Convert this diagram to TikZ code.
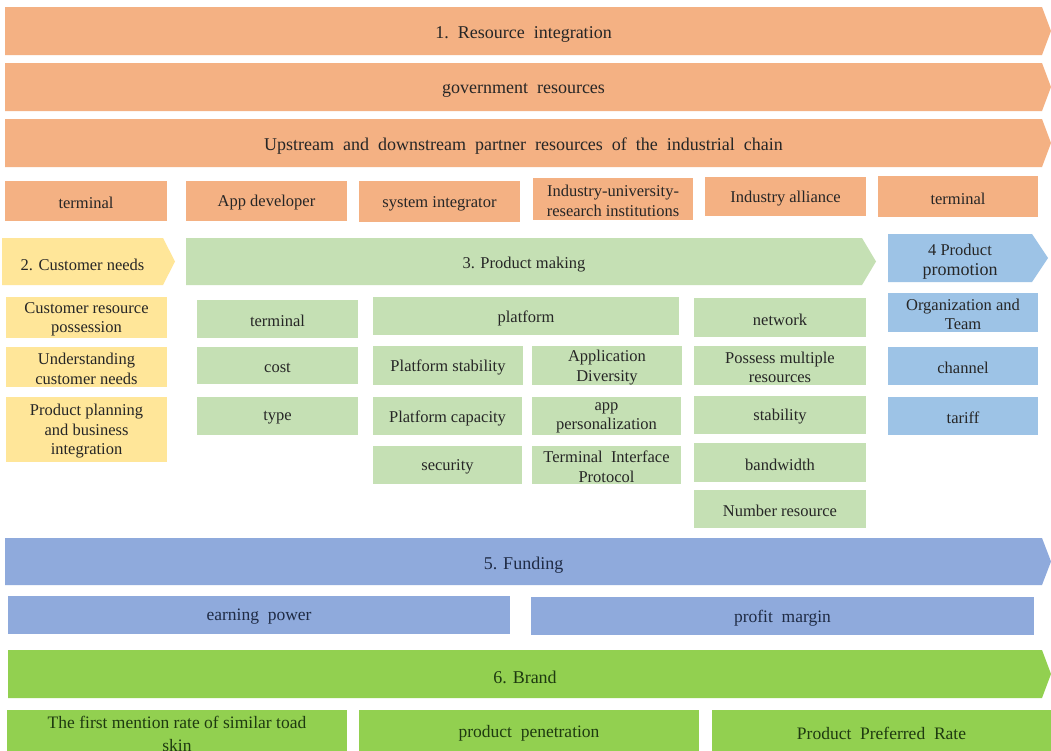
\documentclass[tikz,border=0pt]{standalone}
\usepackage{fontspec}
\setmainfont{Liberation Serif}
\usepackage{tikz}
\usetikzlibrary{positioning}
\usepackage{xcolor}

\definecolor{orangefill}{HTML}{F4B183}
\definecolor{yellowfill}{HTML}{FFE699}
\definecolor{palegreen}{HTML}{C5E0B4}
\definecolor{skyblue}{HTML}{9DC3E6}
\definecolor{fundblue}{HTML}{8FAADC}
\definecolor{brandgreen}{HTML}{92D050}
\definecolor{textdark}{HTML}{262626}
\definecolor{navytext}{HTML}{1F2B45}
\definecolor{greentext}{HTML}{1E3A10}

\tikzset{
  cellbox/.style={rectangle, inner sep=0pt, outer sep=0pt, align=center,
    font=\fontsize{16.5}{19.5}\selectfont, text=textdark},
  bandtext/.style={inner sep=0pt, align=center, yshift=-3.5pt,
    font=\fontsize{18}{20}\selectfont, text=textdark},
  fundstyle/.style={fill=fundblue, text=navytext, font=\fontsize{17.5}{20}\selectfont},
  brandstyle/.style={fill=brandgreen, text=greentext, font=\fontsize{17.5}{23}\selectfont}
}

% rectangle cell: name, x1, y1, x2, y2, style, text
\newcommand{\cell}[7]{%
  \pgfmathsetmacro{\cellw}{#4-#2}\pgfmathsetmacro{\cellh}{#5-#3}%
  \fill[#6] (#2,#3) rectangle (#4,#5);
  \node[cellbox, #6, fill=none, yshift=-2pt]
    (#1) at ({(#2+#4)/2},{(#3+#5)/2}) {#7};}

% chevron band: name, x1, y1, x2, y2, tip, fill, text colour, text
\newcommand{\band}[9]{%
  \fill[#7] (#2,#3) -- (#4-#6,#3) -- (#4,{(#3+#5)/2}) -- (#4-#6,#5) -- (#2,#5) -- cycle;
  \node[bandtext, text=#8] (#1) at ({(#2+#4-#6)/2},{(#3+#5)/2}) {#9};}

\begin{document}
\begin{tikzpicture}[x=1pt, y=-1pt]
    \useasboundingbox (0,0) rectangle (1051,750);
    \clip (0,0) rectangle (1051,750);
    \fill[white] (0,0) rectangle (1051,750);

    % 1. Resource integration
    \band{resint}{5}{7}{1051}{55}{9}{orangefill}{textdark}{1.\ \ Resource\ \ integration}
    \band{govres}{5}{63}{1051}{111}{9}{orangefill}{textdark}{government\ \ resources}
    \band{chain}{5}{119}{1051}{167}{9}{orangefill}{textdark}{Upstream\ \ and\ \ downstream\ \ partner\ \ resources\ \ of\ \ the\ \ industrial\ \ chain}

    % partners
    \cell{termA}{5}{181}{167}{221}{fill=orangefill}{terminal}
    \cell{appdev}{186}{181}{347}{221}{fill=orangefill}{App developer}
    \cell{sysint}{359}{181}{520}{222}{fill=orangefill}{system integrator}
    \cell{iuri}{533}{178}{693}{220}{fill=orangefill}{Industry-university-\\research institutions}
    \cell{indall}{705}{177}{866}{216}{fill=orangefill}{Industry alliance}
    \cell{termB}{878}{176}{1038}{217}{fill=orangefill}{terminal}

    % 2. Customer needs
    \band{custneeds}{2}{238}{175}{285}{12}{yellowfill}{textdark}{\fontsize{16.5}{19.5}\selectfont 2. Customer needs}
    \cell{possess}{6}{297}{167}{338}{fill=yellowfill}{Customer resource\\possession}
    \cell{underst}{6}{347}{167}{387}{fill=yellowfill}{Understanding\\customer needs}
    \cell{planning}{6}{397}{167}{462}{fill=yellowfill}{Product planning\\and business\\integration}

    % 3. Product making
    \band{prodmake}{186}{238}{876}{285}{14}{palegreen}{textdark}{\fontsize{16.5}{19.5}\selectfont 3. Product making}
    \cell{termC}{197}{300}{358}{338}{fill=palegreen}{terminal}
    \cell{cost}{197}{347}{358}{384}{fill=palegreen}{cost}
    \cell{type}{197}{397}{358}{435}{fill=palegreen}{type}

    \cell{platform}{373}{297}{679}{335}{fill=palegreen}{platform}
    \cell{pstab}{373}{346}{523}{385}{fill=palegreen}{Platform stability}
    \cell{appdiv}{532}{346}{682}{385}{fill=palegreen}{Application\\Diversity}
    \cell{pcap}{373}{397}{522}{435}{fill=palegreen}{Platform capacity}
    \cell{apppers}{532}{397}{681}{435}{fill=palegreen}{app\\personalization}
    \cell{security}{373}{446}{522}{484}{fill=palegreen}{security}
    \cell{tip}{532}{446}{681}{484}{fill=palegreen}{Terminal\ \ Interface\\Protocol}

    \cell{network}{694}{298}{866}{337}{fill=palegreen}{network}
    \cell{multires}{694}{346}{866}{385}{fill=palegreen}{Possess multiple\\resources}
    \cell{stab}{694}{396}{866}{434}{fill=palegreen}{stability}
    \cell{bandw}{694}{443}{866}{482}{fill=palegreen}{bandwidth}
    \cell{numres}{694}{490}{866}{528}{fill=palegreen}{Number resource}

    % 4 Product promotion
    \band{promo}{888}{234}{1048}{282}{16}{skyblue}{textdark}{\fontsize{16.5}{19.5}\selectfont 4 Product\\promotion}
    \cell{orgteam}{888}{293}{1038}{332}{fill=skyblue}{Organization and\\Team}
    \cell{channel}{888}{347}{1038}{385}{fill=skyblue}{channel}
    \cell{tariff}{888}{397}{1038}{435}{fill=skyblue}{tariff}

    % 5. Funding
    \band{funding}{5}{538}{1051}{585}{9}{fundblue}{navytext}{5. Funding}
    \cell{earn}{8}{596}{510}{634}{fundstyle}{earning\ \ power}
    \cell{profit}{531}{597}{1034}{635}{fundstyle}{profit\ \ margin}

    % 6. Brand
    \band{brand}{8}{650}{1051}{698}{9}{brandgreen}{greentext}{6. Brand}
    \cell{firstmen}{7}{710}{347}{753}{brandstyle}{The first mention rate of similar toad\\skin}
    \cell{penetr}{359}{710}{699}{753}{brandstyle}{product\ \ penetration}
    \cell{prefrate}{712}{710}{1051}{753}{brandstyle}{Product\ \ Preferred\ \ Rate}
\end{tikzpicture}
\end{document}
